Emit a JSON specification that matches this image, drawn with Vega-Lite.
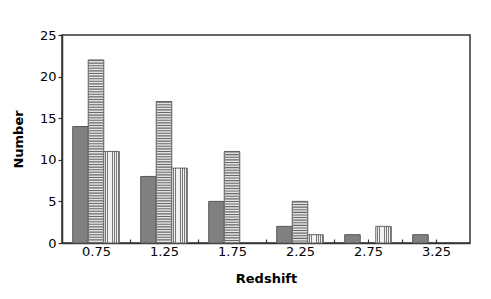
{
  "$schema": "https://vega.github.io/schema/vega-lite/v6.json",
  "width": 408,
  "height": 208,
  "autosize": {"type": "none"},
  "padding": {"left": 62, "top": 35, "right": 21, "bottom": 56},
  "config": {
    "view": {"stroke": "#333333", "strokeWidth": 1.5},
    "font": "DejaVu Sans",
    "axis": {
      "labelFont": "DejaVu Sans",
      "labelFontSize": 13,
      "labelColor": "#000000",
      "titleFont": "DejaVu Sans",
      "titleFontSize": 13,
      "titleFontWeight": "bold",
      "titleColor": "#000000",
      "domainColor": "#333333",
      "domainWidth": 1.5,
      "tickColor": "#333333",
      "tickWidth": 1.2,
      "grid": false
    }
  },
  "data": {
    "values": [
      {"z": 0.75, "series": "A", "n": 14},
      {"z": 1.25, "series": "A", "n": 8},
      {"z": 1.75, "series": "A", "n": 5},
      {"z": 2.25, "series": "A", "n": 2},
      {"z": 2.75, "series": "A", "n": 1},
      {"z": 3.25, "series": "A", "n": 1},
      {"z": 0.75, "series": "B", "n": 22},
      {"z": 1.25, "series": "B", "n": 17},
      {"z": 1.75, "series": "B", "n": 11},
      {"z": 2.25, "series": "B", "n": 5},
      {"z": 0.75, "series": "C", "n": 11},
      {"z": 1.25, "series": "C", "n": 9},
      {"z": 2.25, "series": "C", "n": 1},
      {"z": 2.75, "series": "C", "n": 2}
    ]
  },
  "layer": [
    {
      "layer": [
        {
          "transform": [{"filter": "datum.series == 'A'"}],
          "mark": {"type": "bar", "fill": "#808080", "stroke": "#5a5a5a", "strokeWidth": 1},
          "encoding": {
            "x": {"field": "z", "type": "ordinal", "axis": null, "scale": {"type": "band", "domain": [0.75, 1.25, 1.75, 2.25, 2.75, 3.25], "paddingInner": 0, "paddingOuter": 0}},
            "xOffset": {"field": "series", "type": "nominal", "scale": {"domain": ["A", "B", "C"], "paddingInner": 0, "paddingOuter": 0.69}},
            "y": {"field": "n", "type": "quantitative", "scale": {"domain": [0, 25], "nice": false}, "axis": {"title": "Number", "values": [0, 5, 10, 15, 20, 25], "tickSize": 4, "labelPadding": 2, "titlePadding": 14}}
          }
        },
        {
          "transform": [{"filter": "datum.series == 'B'"}],
          "mark": {"type": "bar", "fill": "#e2e2e2", "stroke": "#555555", "strokeWidth": 1},
          "encoding": {
            "x": {"field": "z", "type": "ordinal", "axis": null, "scale": {"type": "band", "domain": [0.75, 1.25, 1.75, 2.25, 2.75, 3.25], "paddingInner": 0, "paddingOuter": 0}},
            "xOffset": {"field": "series", "type": "nominal", "scale": {"domain": ["A", "B", "C"], "paddingInner": 0, "paddingOuter": 0.69}},
            "y": {"field": "n", "type": "quantitative"}
          }
        },
        {
          "transform": [{"filter": "datum.series == 'B'"}],
          "mark": {"type": "rule", "stroke": "#6a6a6a", "strokeWidth": 14, "strokeDash": [1.1, 1.5], "strokeCap": "butt"},
          "encoding": {
            "x": {"field": "z", "type": "ordinal", "axis": null, "scale": {"type": "band", "domain": [0.75, 1.25, 1.75, 2.25, 2.75, 3.25], "paddingInner": 0, "paddingOuter": 0}},
            "xOffset": {"field": "series", "type": "nominal", "bandPosition": 0.5, "scale": {"domain": ["A", "B", "C"], "paddingInner": 0, "paddingOuter": 0.69}},
            "y": {"field": "n", "type": "quantitative"},
            "y2": {"datum": 0}
          }
        },
        {
          "transform": [{"filter": "datum.series == 'C'"}],
          "mark": {
            "type": "bar",
            "stroke": "#666666",
            "strokeWidth": 1,
            "fill": {
              "gradient": "linear",
              "x1": 0, "y1": 0, "x2": 1, "y2": 0,
              "stops": [
                {"offset": 0, "color": "#f2f2f2"},
                {"offset": 0.0857, "color": "#f2f2f2"},
                {"offset": 0.0857, "color": "#777777"},
                {"offset": 0.1429, "color": "#777777"},
                {"offset": 0.1429, "color": "#f2f2f2"},
                {"offset": 0.2286, "color": "#f2f2f2"},
                {"offset": 0.2286, "color": "#777777"},
                {"offset": 0.2857, "color": "#777777"},
                {"offset": 0.2857, "color": "#f2f2f2"},
                {"offset": 0.3714, "color": "#f2f2f2"},
                {"offset": 0.3714, "color": "#777777"},
                {"offset": 0.4286, "color": "#777777"},
                {"offset": 0.4286, "color": "#f2f2f2"},
                {"offset": 0.5143, "color": "#f2f2f2"},
                {"offset": 0.5143, "color": "#777777"},
                {"offset": 0.5714, "color": "#777777"},
                {"offset": 0.5714, "color": "#f2f2f2"},
                {"offset": 0.6571, "color": "#f2f2f2"},
                {"offset": 0.6571, "color": "#777777"},
                {"offset": 0.7143, "color": "#777777"},
                {"offset": 0.7143, "color": "#f2f2f2"},
                {"offset": 0.8, "color": "#f2f2f2"},
                {"offset": 0.8, "color": "#777777"},
                {"offset": 0.8571, "color": "#777777"},
                {"offset": 0.8571, "color": "#f2f2f2"},
                {"offset": 0.9429, "color": "#f2f2f2"},
                {"offset": 0.9429, "color": "#777777"},
                {"offset": 1, "color": "#777777"}
              ]
            }
          },
          "encoding": {
            "x": {"field": "z", "type": "ordinal", "axis": null, "scale": {"type": "band", "domain": [0.75, 1.25, 1.75, 2.25, 2.75, 3.25], "paddingInner": 0, "paddingOuter": 0}},
            "xOffset": {"field": "series", "type": "nominal", "scale": {"domain": ["A", "B", "C"], "paddingInner": 0, "paddingOuter": 0.69}},
            "y": {"field": "n", "type": "quantitative"}
          }
        }
      ]
    },
    {
      "mark": {"type": "point", "opacity": 0},
      "encoding": {
        "x": {
          "field": "z",
          "type": "quantitative",
          "scale": {"domain": [0.5, 3.5], "nice": false, "zero": false},
          "axis": {
            "title": "Redshift",
            "values": [0.75, 1.0, 1.25, 1.5, 1.75, 2.0, 2.25, 2.5, 2.75, 3.0, 3.25],
            "labelExpr": "(round(datum.value * 4) % 2 == 1) ? format(datum.value, '.2f') : ''",
            "tickSize": -4,
            "labelPadding": 6,
            "titlePadding": 14
          }
        },
        "y": {"field": "n", "type": "quantitative"}
      }
    }
  ],
  "resolve": {"scale": {"x": "independent"}}
}
